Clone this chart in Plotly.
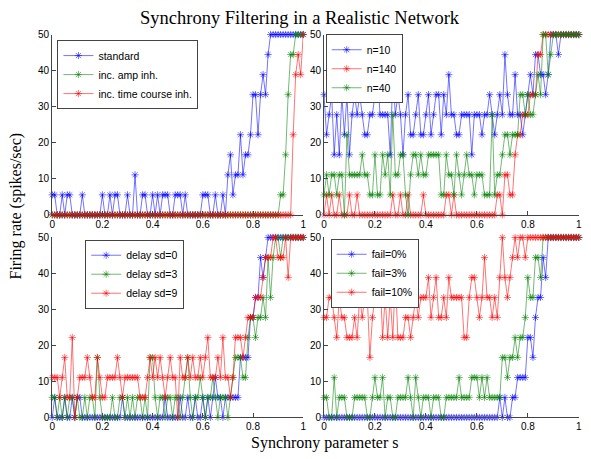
import plotly.graph_objects as go

# synchrony parameter s = 0.00 .. 1.00 in steps of 0.01
S = [i / 100 for i in range(101)]
# firing rates are multiples of one spike per bin (50/9 spikes/sec)
UNIT = 50 / 9

# ---- panel 1 (top-left): spike counts per s ----
standard = [1,1,0,0,1,0,1,1,0,0, 0,0,1,0,0,0,0,0,0,0, 1,0,0,1,0,1,1,0,0,0,
            1,0,0,2,0,0,1,1,0,0, 1,0,1,0,1,1,1,0,0,1, 1,1,0,1,0,0,0,0,0,0,
            1,1,1,0,0,1,0,0,1,0, 2,3,1,2,2,4,2,3,3,4, 6,6,4,6,7,6,8,9,9,9,
            9,9,9,9,9,9,9,9,9,9, 9]
inc_amp = [0]*91 + [1,1,3,6,8,8,9,9,9,9]
inc_time = [0]*96 + [4,7,8,7,9]

# ---- panel 2 (top-right) ----
n10 = [6,4,5,6,3,5,3,6,4,6, 3,5,6,5,6,5,4,4,5,5, 6,7,5,5,5,5,3,7,5,6,
       5,3,5,6,4,4,5,6,4,4, 5,6,4,5,6,6,4,6,5,7, 5,5,4,4,5,5,5,5,3,5,
       5,5,4,5,5,6,5,4,5,6, 5,8,6,5,5,7,5,5,4,5, 6,7,6,8,8,7,7,6,7,9,
       9,9,8,9,9,9,9,9,9,9, 9]
n140 = [0,1,0,1,0,0,1,0,0,0, 1,0,0,1,0,0,0,0,0,0, 0,0,0,0,0,0,0,1,0,0,
        1,0,0,1,0,0,0,0,0,1, 0,0,0,0,0,0,0,0,1,1, 0,1,0,0,0,0,0,0,0,0,
        0,0,0,0,0,0,0,0,1,1, 0,2,2,1,1,3,4,4,5,5, 5,6,6,6,8,8,9,9,9,9,
        9,9,9,9,9,9,9,9,9,9, 9]
n40 = [1,2,1,2,2,1,2,2,0,4, 2,2,2,2,2,3,2,2,1,1, 3,1,1,3,2,3,1,5,2,2,
       3,3,1,0,2,3,3,2,3,2, 2,3,3,3,3,3,1,1,3,2, 2,1,3,2,1,2,3,2,2,1,
       2,2,2,1,1,1,5,1,2,2, 3,4,4,3,4,4,4,6,6,5, 6,5,5,6,7,6,9,9,7,8,
       9,9,9,9,9,9,9,9,9,9, 9]

# ---- panel 3 (bottom-left) ----
sd0 = [0,1,0,0,0,1,0,0,1,0, 1,1,0,0,0,0,0,0,0,0, 0,0,0,0,0,0,0,0,1,0,
       0,0,0,0,0,0,0,0,0,0, 0,0,0,0,0,1,0,0,0,0, 0,1,0,0,1,0,0,1,0,0,
       1,0,1,0,1,2,1,1,0,1, 1,1,1,1,1,3,3,3,3,5, 5,6,6,8,7,8,9,9,9,9,
       9,9,9,9,9,9,9,9,9,9, 9]
sd3 = [1,1,0,1,0,1,0,1,1,0, 1,0,0,1,0,1,1,0,3,1, 0,0,0,0,1,0,0,1,1,0,
       1,0,1,0,1,1,0,1,0,3, 3,1,0,1,1,0,1,1,0,1, 1,0,1,2,3,1,0,1,1,2,
       1,0,1,1,2,1,0,1,1,1, 0,1,2,3,3,3,2,2,4,5, 5,4,5,5,6,5,8,6,8,9,
       9,8,9,9,9,9,9,9,9,9, 9]
sd9 = [2,2,2,1,2,3,1,1,4,0, 1,2,2,2,3,2,1,1,3,2, 1,1,2,2,2,2,3,2,1,2,
       2,2,2,2,2,1,1,1,2,3, 2,3,2,3,2,1,2,3,2,2, 0,3,2,2,3,2,3,2,2,3,
       2,3,4,2,2,2,3,2,4,2, 2,1,2,4,4,4,3,4,5,5, 5,6,6,6,7,8,8,8,9,9,
       8,8,8,9,7,9,9,9,9,9, 9]

# ---- panel 4 (bottom-right) ----
fail0 = [0]*68 + [0,1,0,1,0,0,1,1,2,2,2,2,4,4,3,5,6,6,8,7] + [9]*13
fail3 = [1,1,0,0,2,0,1,1,1,0, 0,0,1,1,1,1,1,0,0,1, 2,1,1,2,0,1,1,0,0,1,
         1,1,1,2,1,0,2,1,0,1, 1,1,0,1,1,1,0,0,1,1, 1,1,1,2,1,1,1,1,2,2,
         2,1,2,1,2,1,1,1,1,1, 3,3,2,3,3,4,3,4,4,5, 7,6,6,8,8,7,9,9,9,9,
         9,9,9,9,9,9,9,9,9,9, 9]
fail10 = [5,5,6,6,5,4,6,5,5,4, 4,4,5,4,6,5,6,6,3,5, 6,6,7,4,6,4,6,4,7,4,
          4,4,5,5,4,5,6,5,6,6, 6,7,5,6,7,5,5,6,5,7, 6,6,6,6,6,4,4,6,7,7,
          6,5,6,8,6,6,5,6,5,7, 9,7,6,7,8,9,8,9,9,8, 9,9,9,9,9,9,9,9,9,9,
          9,9,9,9,9,9,9,9,9,9, 9]

TITLE = "Synchrony Filtering in a Realistic Network"
XLABEL = "Synchrony parameter s"
YLABEL = "Firing rate (spikes/sec)"

BLUE = (0, 0, 255)
GREEN = (0, 128, 0)
RED = (255, 0, 0)

panels = [
    ("x", "y", "legend", [("standard", standard, BLUE), ("inc. amp inh.", inc_amp, GREEN),
                          ("inc. time course inh.", inc_time, RED)]),
    ("x2", "y2", "legend2", [("n=10", n10, BLUE), ("n=140", n140, RED), ("n=40", n40, GREEN)]),
    ("x3", "y3", "legend3", [("delay sd=0", sd0, BLUE), ("delay sd=3", sd3, GREEN),
                             ("delay sd=9", sd9, RED)]),
    ("x4", "y4", "legend4", [("fail=0%", fail0, BLUE), ("fail=3%", fail3, GREEN),
                             ("fail=10%", fail10, RED)]),
]

W, H = 591, 459
fig = go.Figure()
for xa, ya, lg, series in panels:
    for name, counts, c in series:
        fig.add_trace(go.Scatter(
            x=S, y=[v * UNIT for v in counts], name=name, mode="lines+markers",
            xaxis=xa, yaxis=ya, legend=lg, cliponaxis=False,
            line=dict(color="rgba(%d,%d,%d,0.55)" % c, width=1),
            marker=dict(symbol="asterisk-open", size=6,
                        line=dict(color="rgb(%d,%d,%d)" % c, width=1)),
        ))

def px(v):
    return v / W

def py(v):
    return 1 - v / H

xdom_l = [px(49.7), px(303.3)]
xdom_r = [px(324.3), px(581.7)]
ydom_t = [py(214.5), py(29.3)]
ydom_b = [py(422.5), py(237.7)]

axfont = dict(family="Liberation Sans, Arial", size=10, color="black")
common_x = dict(range=[0, 1], dtick=0.2, tick0=0, showline=True, linecolor="#444", linewidth=1,
                ticks="inside", ticklen=4, tickcolor="#444", showgrid=False, zeroline=False,
                tickfont=axfont, fixedrange=True)
common_y = dict(range=[0, 50], dtick=10, tick0=0, showline=True, linecolor="#444", linewidth=1,
                ticks="inside", ticklen=4, tickcolor="#444", showgrid=False, zeroline=False,
                tickfont=axfont, fixedrange=True)

fig.update_layout(
    width=W, height=H, margin=dict(l=0, r=0, t=0, b=0),
    paper_bgcolor="white", plot_bgcolor="white",
    xaxis=dict(domain=xdom_l, anchor="y", **common_x),
    yaxis=dict(domain=ydom_t, anchor="x", **common_y),
    xaxis2=dict(domain=xdom_r, anchor="y2", **common_x),
    yaxis2=dict(domain=ydom_t, anchor="x2", **common_y),
    xaxis3=dict(domain=xdom_l, anchor="y3", **common_x),
    yaxis3=dict(domain=ydom_b, anchor="x3", **common_y),
    xaxis4=dict(domain=xdom_r, anchor="y4", **common_x),
    yaxis4=dict(domain=ydom_b, anchor="x4", **common_y),
    showlegend=True,
)

legfont = dict(family="Liberation Sans, Arial", size=10.5, color="black")
for key, lx, ly in [("legend", 55, 35), ("legend2", 326, 29), ("legend3", 83, 240), ("legend4", 331, 239)]:
    fig.update_layout({key: dict(x=px(lx), y=py(ly), xanchor="left", yanchor="top",
                                 bgcolor="white", bordercolor="#444", borderwidth=1,
                                 font=legfont, tracegroupgap=0)})

serif = dict(family="Liberation Serif, Times New Roman, serif", size=18.5, color="black")
fig.add_annotation(text=TITLE, x=px(300), y=py(12), xref="paper", yref="paper",
                   showarrow=False, font=serif, xanchor="center", yanchor="middle")
fig.add_annotation(text=XLABEL, x=px(325), y=py(449), xref="paper", yref="paper",
                   showarrow=False, font=dict(serif, size=16), xanchor="center", yanchor="middle")
fig.add_annotation(text=YLABEL, x=px(13), y=py(205), xref="paper", yref="paper", textangle=-90,
                   showarrow=False, font=dict(serif, size=16), xanchor="center", yanchor="middle")

fig.write_html("out.html")
